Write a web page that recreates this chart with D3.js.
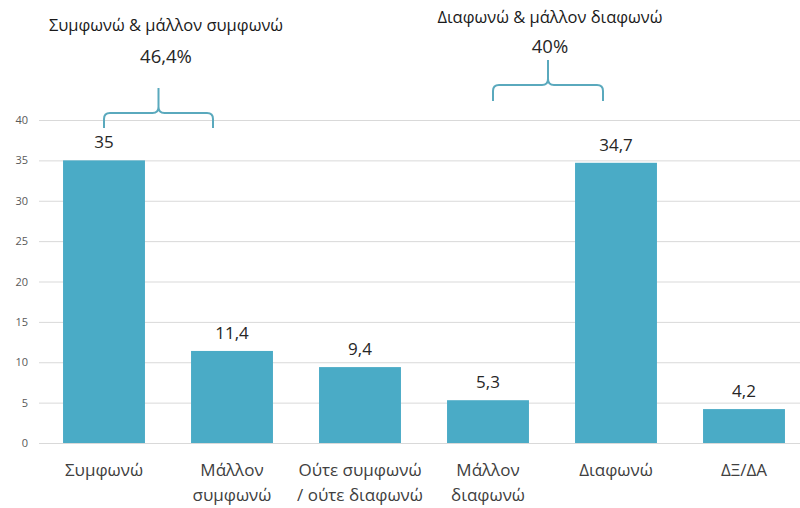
<!DOCTYPE html>
<html>
<head>
<meta charset="utf-8">
<script src="https://cdn.jsdelivr.net/npm/d3@7"></script>
<style>
  body { margin: 0; background: #fff; }
  text { font-family: "Open Sans", "Noto Sans", sans-serif; }
</style>
</head>
<body>
<script>
// Greek agree/disagree poll, bar chart

const categories = ["Συμφωνώ", "Μάλλον|συμφωνώ", "Ούτε συμφωνώ|/ ούτε διαφωνώ", "Μάλλον|διαφωνώ", "Διαφωνώ", "ΔΞ/ΔΑ"];
const values = [35, 11.4, 9.4, 5.3, 34.7, 4.2];
const valueLabels = ["35", "11,4", "9,4", "5,3", "34,7", "4,2"];
const yTicks = [0, 5, 10, 15, 20, 25, 30, 35, 40];

// grouped totals shown over braces
const groupTitles = ["Συμφωνώ & μάλλον συμφωνώ", "Διαφωνώ & μάλλον διαφωνώ"];
const groupTotals = ["46,4%", "40%"];

const width = 800, height = 508;
const color = "#4aabc6";

const svg = d3.select("body").append("svg")
  .attr("width", width)
  .attr("height", height);

const x = d3.scaleBand()
  .domain(categories)
  .range([40, 808])
  .paddingInner(0.36)
  .paddingOuter(0.18);

const y = d3.scaleLinear()
  .domain([0, 40])
  .range([443, 120]);

// gridlines + y labels
const yAxis = svg.append("g")
  .attr("transform", "translate(39,0)")
  .call(d3.axisLeft(y).tickValues(yTicks).tickSize(-761).tickPadding(11));
yAxis.select(".domain").remove();
yAxis.selectAll(".tick line").attr("stroke", "#d9d9d9");
yAxis.selectAll(".tick text")
  .attr("fill", "#595959")
  .style("font-size", "11px");

// bars
svg.append("g")
  .selectAll("rect")
  .data(values)
  .join("rect")
    .attr("x", (d, i) => x(categories[i]))
    .attr("y", d => y(d))
    .attr("width", x.bandwidth())
    .attr("height", d => y(0) - y(d))
    .attr("fill", color);

// value labels
svg.append("g")
  .selectAll("text")
  .data(values)
  .join("text")
    .attr("x", (d, i) => x(categories[i]) + x.bandwidth() / 2)
    .attr("y", d => y(d) - 12)
    .attr("text-anchor", "middle")
    .attr("fill", "#262626")
    .style("font-size", "17px")
    .text((d, i) => valueLabels[i]);

// category labels (two lines where needed)
const cat = svg.append("g")
  .selectAll("text")
  .data(categories)
  .join("text")
    .attr("x", d => x(d) + x.bandwidth() / 2)
    .attr("y", 476)
    .attr("text-anchor", "middle")
    .attr("fill", "#404040")
    .style("font-size", "17px");
cat.selectAll("tspan")
  .data(d => d.split("|").map(t => ({ t, cx: x(d) + x.bandwidth() / 2 })))
  .join("tspan")
    .attr("x", d => d.cx)
    .attr("dy", (d, i) => i ? 25 : 0)
    .text(d => d.t);

// brace helper
function brace(x1, x2, yTop, yEnd, ySpike) {
  const r = 6, xm = (x1 + x2) / 2;
  return `M${x1},${yEnd} L${x1},${yTop + r} Q${x1},${yTop} ${x1 + r},${yTop}` +
    ` L${xm - r},${yTop} Q${xm},${yTop} ${xm},${yTop - r} L${xm},${ySpike}` +
    ` M${xm},${yTop - r} Q${xm},${yTop} ${xm + r},${yTop}` +
    ` L${x2 - r},${yTop} Q${x2},${yTop} ${x2},${yTop + r} L${x2},${yEnd}`;
}

const c = i => x(categories[i]) + x.bandwidth() / 2;
const groups = [
  { x1: c(0), x2: c(1) - 19, yTop: 113, yEnd: 128, ySpike: 88, ty: 31, vy: 63, tx: 166 },
  { x1: c(3) + 5, x2: c(4) - 13, yTop: 85, yEnd: 101, ySpike: 60, ty: 23, vy: 53, tx: 550 }
];

groups.forEach((g, i) => {
  svg.append("path")
    .attr("d", brace(g.x1, g.x2, g.yTop, g.yEnd, g.ySpike))
    .attr("fill", "none")
    .attr("stroke", "#5aa9bd")
    .attr("stroke-width", 2);
  svg.append("text")
    .attr("x", g.tx)
    .attr("y", g.ty)
    .attr("text-anchor", "middle")
    .attr("fill", "#1a1a1a")
    .style("font-size", "16.5px")
    .text(groupTitles[i]);
  svg.append("text")
    .attr("x", g.tx)
    .attr("y", g.vy)
    .attr("text-anchor", "middle")
    .attr("fill", "#262626")
    .style("font-size", "18.5px")
    .text(groupTotals[i]);
});
</script>
</body>
</html>
